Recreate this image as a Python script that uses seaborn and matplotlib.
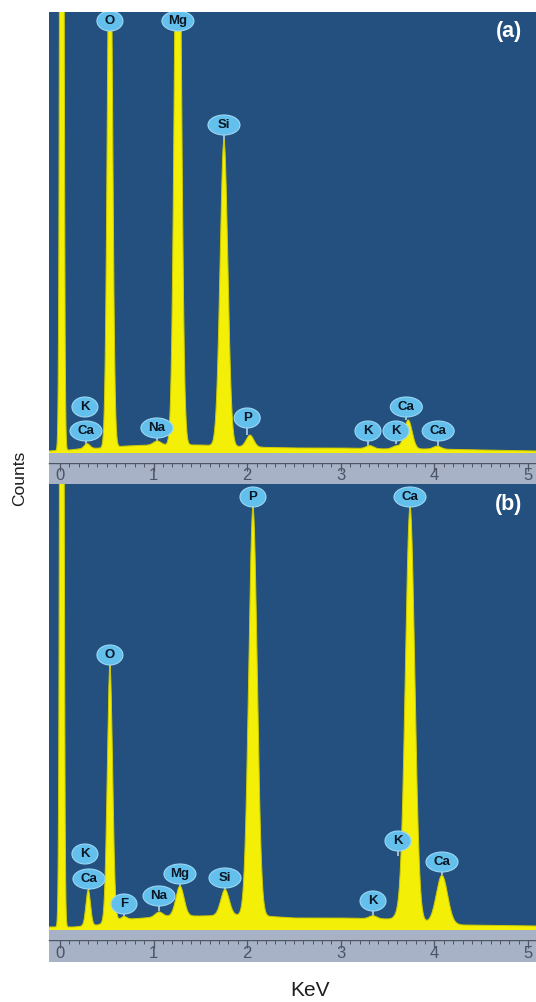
import numpy as np
import pandas as pd
import matplotlib
matplotlib.use("Agg")
import matplotlib.pyplot as plt
from matplotlib.patches import Ellipse, Rectangle
from matplotlib.transforms import ScaledTranslation, blended_transform_factory
import seaborn as sns

sns.set_theme(style="white")
plt.rcParams["font.family"] = ["Liberation Sans", "DejaVu Sans"]

# ---------------- data ----------------
E_MIN, E_MAX = -0.117, 5.085

# panel (a): peaks (energy keV, amplitude above background, width sigma keV)
a_peak_e = [0.02, 0.29, 0.534, 1.04, 1.26, 1.752, 2.03, 3.31, 3.59, 3.72, 4.03]
a_peak_amp = [2000, 5, 600, 4, 700, 306, 12, 3, 3, 29, 3]
a_peak_sig = [0.015, 0.03, 0.026, 0.04, 0.034, 0.041, 0.04, 0.04, 0.04, 0.042, 0.04]
a_bg_e = [-0.12, 0.1, 0.2, 0.45, 0.7, 1.0, 1.5, 2.0, 2.5, 3.0, 3.5, 4.0, 4.5, 5.1]
a_bg = [2, 3, 4, 5, 7, 8, 8, 6, 5, 5, 4, 4, 3, 2]

# panel (b)
b_peak_e = [0.02, 0.302, 0.534, 0.684, 1.058, 1.282, 1.763, 2.062, 3.344, 3.61, 3.74, 4.081]
b_peak_amp = [2000, 36, 256, 3, 5, 30, 26, 408, 3, 4, 414, 48]
b_peak_sig = [0.015, 0.024, 0.028, 0.03, 0.04, 0.043, 0.045, 0.045, 0.04, 0.04, 0.05, 0.06]
b_bg_e = [-0.12, 0.15, 0.25, 0.4, 0.6, 0.9, 1.2, 1.5, 2.0, 2.5, 3.0, 3.5, 3.9, 4.3, 5.1]
b_bg = [3, 3, 4, 5, 10, 12, 14, 14, 15, 12, 12, 11, 8, 5, 4]

# element tags: name, energy, tag height, height the pointer reaches
a_tag_name = ["O", "Mg", "Si", "K", "Ca", "Na", "P", "K", "K", "Ca", "Ca"]
a_tag_e = [0.534, 1.26, 1.752, 0.267, 0.278, 1.036, 2.0, 3.29, 3.59, 3.70, 4.04]
a_tag_h = [432, 432, 328, 46, 22, 25, 35, 22, 22, 46, 22]
a_tag_tip = [420, 420, 313, 46, 8, 12, 18, 6, 9, 33, 6]

b_tag_name = ["P", "Ca", "O", "K", "Ca", "F", "Na", "Mg", "Si", "K", "K", "Ca"]
b_tag_e = [2.062, 3.739, 0.534, 0.267, 0.31, 0.684, 1.058, 1.282, 1.763, 3.344, 3.611, 4.081]
b_tag_h = [433, 433, 275, 76, 51, 26, 34, 56, 52, 29, 89, 68]
b_tag_tip = [420, 420, 262, 76, 40, 12, 19, 43, 39, 12, 74, 55]

ruler_major = [0, 1, 2, 3, 4, 5]
ruler_minor = np.round(np.arange(0, 5.05, 0.1), 2)

# ---------------- style ----------------
BLUE = "#245080"
YELLOW = "#f3ef06"
BUBBLE = "#63c0ec"
BUBBLE_EDGE = "#9bd8f4"
RULER = "#a8b2c6"
W, H = 536, 1002

fig = plt.figure(figsize=(W / 100, H / 100), dpi=100)
fig.patch.set_facecolor("white")


def rect(x0, y0, x1, y1):
    return [x0 / W, 1 - y1 / H, (x1 - x0) / W, (y1 - y0) / H]


def spectrum(energy, pe, pa, ps, bge, bgv):
    y = np.interp(energy, bge, bgv)
    for c, a, s in zip(pe, pa, ps):
        y = y + a * np.exp(-0.5 * ((energy - c) / s) ** 2)
    return y


energy = np.linspace(E_MIN - 0.01, E_MAX + 0.01, 3000)


def draw_panel(ax, ytop, pe, pa, ps, bge, bgv, names, te, th, tt, tag):
    counts = spectrum(energy, pe, pa, ps, bge, bgv)
    df = pd.DataFrame({"KeV": energy, "Counts": counts})
    ax.set_facecolor(BLUE)
    ax.fill_between(df["KeV"], df["Counts"], 0, color=YELLOW, lw=0, zorder=2)
    sns.lineplot(data=df, x="KeV", y="Counts", ax=ax, color="#cfcb00",
                 lw=0.7, estimator=None, sort=False, zorder=3)
    ax.set_xlim(E_MIN, E_MAX)
    ax.set_ylim(0, ytop)
    ax.set_xticks([])
    ax.set_yticks([])
    ax.set_xlabel("")
    ax.set_ylabel("")
    for s in ax.spines.values():
        s.set_visible(False)

    for n, e, h, t in zip(names, te, th, tt):
        if t < h:
            ax.plot([e, e], [t, h], color="#a9c6da", lw=1.3, zorder=1.5,
                    solid_capstyle="butt")
        w_px = 20 + 6 * len(n)
        ell = Ellipse((0, 0), width=w_px / 100, height=20 / 100,
                      transform=fig.dpi_scale_trans + ScaledTranslation(e, h, ax.transData),
                      facecolor=BUBBLE, edgecolor=BUBBLE_EDGE, lw=0.8, zorder=5)
        ax.add_patch(ell)
        ax.text(e, h, n, ha="center", va="center", fontsize=9.5, fontweight="bold",
                color="#0b1624", zorder=6)

    ax.text(0.944, 0.955, tag, transform=ax.transAxes, ha="center", va="center",
            fontsize=15.5, fontweight="bold", color="white", zorder=6)


def draw_ruler(ax):
    ax.set_facecolor(RULER)
    ax.set_xlim(E_MIN, E_MAX)
    ax.set_ylim(0, 1)
    for k in ["left", "right", "bottom"]:
        ax.spines[k].set_visible(False)
    ax.spines["top"].set_color("#4f5563")
    ax.spines["top"].set_linewidth(1.0)
    ax.set_yticks([])
    ax.xaxis.set_ticks_position("top")
    ax.set_xticks(ruler_major)
    ax.set_xticks(ruler_minor, minor=True)
    ax.tick_params(axis="x", which="major", direction="in", length=6, width=0.9,
                   color="#4f5563", labeltop=False, labelbottom=False)
    ax.tick_params(axis="x", which="minor", direction="in", length=2.8, width=0.7,
                   color="#4f5563")
    tr = blended_transform_factory(ax.transData, ax.transAxes)
    for v in ruler_major:
        ax.text(v, 0.40, str(v), transform=tr, ha="center", va="center",
                fontsize=12, color="#4b5467")


ax_a = fig.add_axes(rect(49, 12, 536, 453))
ax_b = fig.add_axes(rect(49, 484, 536, 930))
ruler_a = fig.add_axes(rect(49, 463, 536, 484))
ruler_b = fig.add_axes(rect(49, 940, 536, 962))
fig.patches.append(Rectangle((49 / W, 1 - 463 / H), (536 - 49) / W, 10 / H,
                             transform=fig.transFigure, facecolor=RULER, lw=0, zorder=0))
fig.patches.append(Rectangle((49 / W, 1 - 940 / H), (536 - 49) / W, 10 / H,
                             transform=fig.transFigure, facecolor=RULER, lw=0, zorder=0))

draw_panel(ax_a, 441, a_peak_e, a_peak_amp, a_peak_sig, a_bg_e, a_bg,
           a_tag_name, a_tag_e, a_tag_h, a_tag_tip, "(a)")
draw_panel(ax_b, 446, b_peak_e, b_peak_amp, b_peak_sig, b_bg_e, b_bg,
           b_tag_name, b_tag_e, b_tag_h, b_tag_tip, "(b)")
draw_ruler(ruler_a)
draw_ruler(ruler_b)

fig.text(20 / W, 1 - 478 / H, "Counts", rotation=90, ha="center", va="center",
         fontsize=12.5, color="#1e1e1e")
fig.text(310 / W, 1 - 990 / H, "KeV", ha="center", va="center",
         fontsize=15, color="#1e1e1e")

fig.savefig("out.png", dpi=100, facecolor="white")
